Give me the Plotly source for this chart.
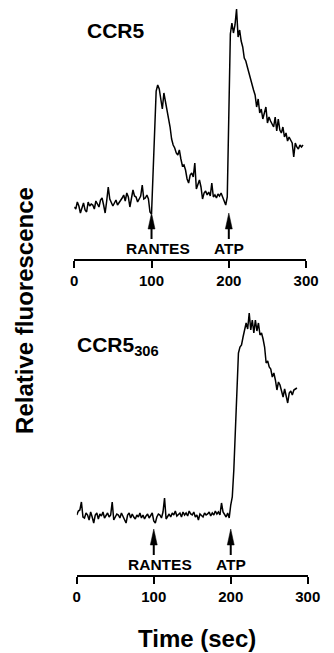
import numpy as np
import plotly.graph_objects as go

# ---------------- data ----------------
time_top = list(range(0, 298, 2))
ccr5 = [52, 50, 57, 53, 46, 51, 56, 49, 47, 57,
        53, 55, 54, 50, 58, 55, 52, 59, 61, 54,
        46, 58, 72, 60, 57, 53, 56, 59, 54, 56,
        59, 61, 64, 58, 66, 62, 52, 60, 69, 63,
        62, 57, 61, 63, 74, 60, 61, 64, 60, 47,
        45, 92, 140, 168, 174, 170, 160, 150, 166, 158,
        149, 142, 132, 120, 114, 111, 106, 104, 109, 100,
        93, 94, 89, 80, 76, 84, 86, 82, 96, 70,
        74, 79, 72, 60, 66, 68, 64, 67, 63, 76,
        62, 64, 61, 65, 63, 66, 62, 58, 54, 62,
        159, 225, 236, 226, 234, 250, 222, 229, 218, 212,
        201, 198, 192, 186, 179, 174, 169, 164, 152, 160,
        146, 150, 140, 146, 152, 136, 142, 138, 134, 132,
        142, 128, 140, 129, 126, 132, 122, 126, 118, 122,
        119, 116, 102, 116, 112, 110, 114, 112, 114]

time_bottom = list(range(0, 288, 2))
ccr5_306 = [60, 64, 65, 73, 58, 57, 62, 60, 55, 63,
            58, 52, 60, 62, 56, 61, 59, 63, 57, 60,
            62, 58, 60, 73, 55, 58, 61, 60, 57, 62,
            59, 55, 52, 60, 62, 57, 61, 58, 56, 60,
            58, 62, 57, 60, 56, 59, 61, 57, 60, 62,
            54, 52, 58, 61, 60, 57, 63, 77, 56, 59,
            61, 58, 62, 60, 64, 59, 61, 62, 58, 63,
            60, 62, 59, 64, 61, 60, 63, 58, 60, 55,
            61, 59, 58, 62, 60, 61, 63, 59, 62, 60,
            64, 61, 63, 60, 72, 63, 60, 58, 62, 57,
            70, 78, 105, 148, 198, 222, 228, 230, 238, 244,
            252, 246, 262, 245, 255, 242, 255, 244, 252, 240,
            242, 236, 228, 212, 214, 208, 206, 198, 202, 195,
            185, 193, 190, 184, 178, 186, 180, 172, 182, 184,
            180, 185, 186, 187]

event_names = ["RANTES", "ATP"]
event_times = [100, 200]
tick_values = [0, 100, 200, 300]
panel_titles = ["CCR5", "CCR5<sub>306</sub>"]
x_title = "Time (sec)"
y_title = "Relative fluorescence"

# ---------------- figure ----------------
W, H = 334, 653
FONT = "Liberation Sans"

fig = go.Figure()
fig.add_trace(go.Scatter(x=time_top, y=ccr5, mode="lines",
                         line=dict(color="black", width=1.5),
                         xaxis="x", yaxis="y", showlegend=False, hoverinfo="skip"))
fig.add_trace(go.Scatter(x=time_bottom, y=ccr5_306, mode="lines",
                         line=dict(color="black", width=1.5),
                         xaxis="x2", yaxis="y2", showlegend=False, hoverinfo="skip"))

axis_common = dict(range=[0, 300], tickvals=tick_values, ticks="outside", ticklen=7,
                   tickwidth=1.5, tickcolor="black", showline=True, linecolor="black",
                   linewidth=1.5, showgrid=False, zeroline=False,
                   tickfont=dict(family=FONT, size=15, color="black", weight="bold"))

fig.update_layout(
    width=W, height=H,
    margin=dict(l=0, r=0, t=0, b=0),
    paper_bgcolor="white", plot_bgcolor="white",
    xaxis=dict(domain=[74 / W, 318.3 / W], anchor="y", **axis_common),
    yaxis=dict(domain=[1 - 259 / H, 1.0], range=[0, 259], visible=False, anchor="x"),
    xaxis2=dict(domain=[76.7 / W, 320 / W], anchor="y2", **axis_common),
    yaxis2=dict(domain=[1 - 575 / H, 1 - 300 / H], range=[0, 275], visible=False, anchor="x2"),
)

shapes = []
annotations = []
label_shift = {"RANTES": 6, "ATP": 0}
for xr, yr in [("x", "y"), ("x2", "y2")]:
    for name, t in zip(event_names, event_times):
        shapes.append(dict(type="line", xref=xr, yref=yr, x0=t, x1=t, y0=20, y1=31,
                           line=dict(color="black", width=2)))
        shapes.append(dict(type="path", xref=xr, yref=yr,
                           path=f"M {t - 4.5},30 L {t + 4.5},30 L {t},46 Z",
                           fillcolor="black", line=dict(color="black", width=0.5)))
        annotations.append(dict(text=name, xref=xr, yref=yr, x=t, y=10.5,
                                xshift=label_shift[name], showarrow=False,
                                xanchor="center", yanchor="middle",
                                font=dict(family=FONT, size=15.5, color="black", weight="bold")))

annotations.append(dict(text=panel_titles[0], xref="paper", yref="paper",
                        x=85 / W, y=1 - 30 / H, xanchor="left", yanchor="middle",
                        showarrow=False,
                        font=dict(family=FONT, size=21, color="black", weight="bold")))
annotations.append(dict(text=panel_titles[1], xref="paper", yref="paper",
                        x=75 / W, y=1 - 346 / H, xanchor="left", yanchor="middle",
                        showarrow=False,
                        font=dict(family=FONT, size=21, color="black", weight="bold")))
annotations.append(dict(text=y_title, xref="paper", yref="paper",
                        x=22 / W, y=1 - 310 / H, xanchor="center", yanchor="middle",
                        textangle=-90, showarrow=False,
                        font=dict(family=FONT, size=24, color="black", weight="bold")))
annotations.append(dict(text=x_title, xref="paper", yref="paper",
                        x=203 / W, y=1 - 638 / H, xanchor="center", yanchor="middle",
                        showarrow=False,
                        font=dict(family=FONT, size=24, color="black", weight="bold")))

fig.update_layout(shapes=shapes, annotations=annotations)
fig.write_html("out.html",
               config={"displayModeBar": False},
               post_script="document.body.style.margin='0';document.body.style.overflow='hidden';")
